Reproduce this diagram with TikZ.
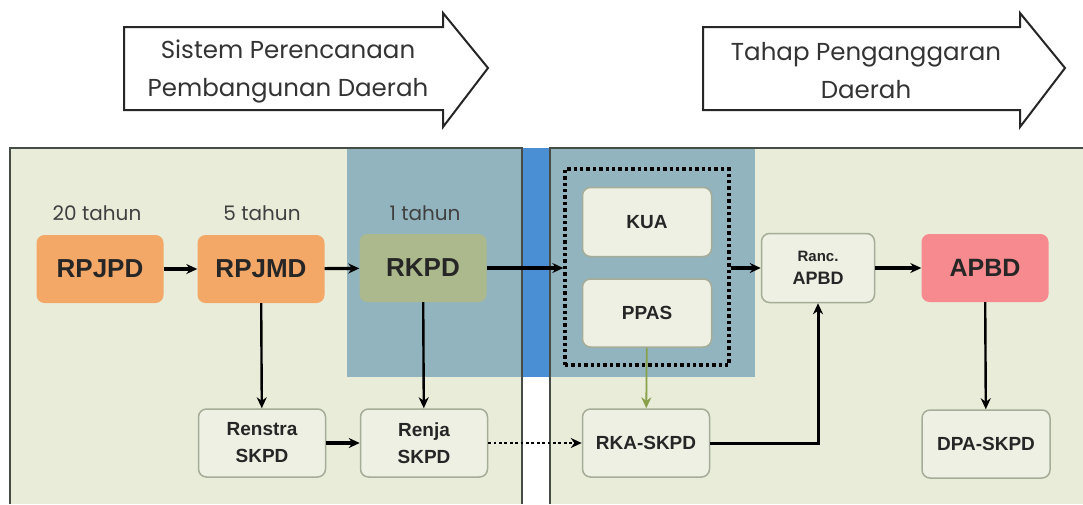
\documentclass[tikz,border=0pt]{standalone}
\usepackage{fontspec}
\setmainfont{Liberation Sans}
\newfontfamily\gothicfont{Poppins}
\usepackage{tikz}
\usetikzlibrary{arrows.meta}
\usetikzlibrary{positioning, calc}
\definecolor{panel}{RGB}{232,236,217}
\definecolor{tealbg}{RGB}{146,180,190}
\definecolor{stripblue}{RGB}{74,142,212}
\definecolor{orangebox}{RGB}{244,168,104}
\definecolor{olivebox}{RGB}{172,185,140}
\definecolor{pinkbox}{RGB}{246,138,142}
\definecolor{subfill}{RGB}{238,240,227}
\definecolor{subline}{RGB}{165,172,152}
\definecolor{greenline}{RGB}{138,160,74}
\definecolor{frame}{RGB}{70,76,70}

\tikzset{
  plan/.style={rounded corners=8pt, minimum width=127pt, minimum height=68pt,
    font=\fontsize{26}{28}\selectfont\bfseries, text=black!85},
  sub/.style={rounded corners=8pt, draw=subline, line width=1.5pt, fill=subfill,
    minimum width=127pt, minimum height=68pt, align=center,
    font=\fontsize{19}{27}\selectfont\bfseries, text=black!85},
  period/.style={font=\gothicfont\fontsize{20}{24}\selectfont, text=black!75},
  heading/.style={font=\gothicfont\fontsize{24.5}{38}\selectfont, align=center, text=black!80},
  flow/.style={->, line width=3.2pt},
  >={Stealth[length=11pt,width=10pt]}
}

\begin{document}
\begin{tikzpicture}[x=1pt, y=-1pt]
\useasboundingbox (0,0) rectangle (1083,504);
\fill[white] (0,0) rectangle (1083,504);

% panels
\fill[panel] (10,148) rectangle (522,504);
\fill[tealbg] (347,148) rectangle (522,377);
\fill[stripblue] (522,148) rectangle (550,377);
\fill[panel] (550,148) rectangle (1083,504);
\fill[tealbg] (550,148) rectangle (755,377);
\draw[frame, line width=2pt] (10,504) -- (10,148) -- (522,148) -- (522,504);
\draw[frame, line width=2pt] (550,504) -- (550,148) -- (1083,148);

% block arrows on top
\draw[gray!30!black, line width=2pt, fill=white]
  (124,27) -- (443,27) -- (443,13) -- (488,68) -- (443,127) -- (443,110) -- (124,110) -- cycle;
\draw[gray!30!black, line width=2pt, fill=white]
  (703,27) -- (1020,27) -- (1020,13) -- (1065,68) -- (1020,127) -- (1020,110) -- (703,110) -- cycle;
\node[heading] (sppd) at (288,71) {Sistem Perencanaan\\Pembangunan Daerah};
\node[heading] (tpd) at (866,71) {Tahap Penganggaran\\Daerah};

% periods
\node[period] (t20) at (97,213) {20 tahun};
\node[period] (t5) at (262,213) {5 tahun};
\node[period] (t1) at (425,213) {1 tahun};

% planning boxes
\node[plan, fill=orangebox] (rpjpd) at (100,269) {RPJPD};
\node[plan, fill=orangebox] (rpjmd) at (261,269) {RPJMD};
\node[plan, fill=olivebox] (rkpd) at (423,268) {RKPD};
\node[sub] (renstra) at (262,443) {Renstra\\SKPD};
\node[sub] (renja) at (424,443) {Renja\\SKPD};

% budget boxes
\node[draw, line width=3.4pt, dash pattern=on 3.4pt off 3pt,
  minimum width=164pt, minimum height=196pt] (kuappas) at (647,267) {};
\node[sub, minimum width=129pt, minimum height=69pt] (kua) at (647,222) {KUA};
\node[sub, minimum width=129pt, minimum height=68pt] (ppas) at (647,313) {PPAS};
\node[sub, minimum width=113pt, minimum height=69pt,
  font=\bfseries\fontsize{18}{23}\selectfont] (ranc) at (818,268)
  {{\fontsize{15}{18}\selectfont Ranc.}\\APBD};
\node[plan, fill=pinkbox, font=\fontsize{25}{28}\selectfont\bfseries] (apbd) at (985,268) {APBD};
\node[sub] (rka) at (646,443) {RKA-SKPD};
\node[sub, minimum width=128pt] (dpa) at (986,444) {DPA-SKPD};

% connectors
\draw[flow] (rpjpd) -- (rpjmd);
\draw[flow] (rpjmd) -- (rkpd);
\draw[flow] (rkpd.east) -- (rkpd.east -| kuappas.west);
\draw[flow] (kuappas.east |- ranc.west) -- (ranc.west);
\draw[flow] (ranc) -- (apbd);
\draw[flow] (renstra) -- (renja);
\draw[->, line width=2.4pt] (rpjmd) -- (renstra);
\draw[->, line width=2.4pt] (rkpd) -- (renja);
\draw[->, line width=2.4pt] (apbd) -- (dpa);
\draw[->, line width=2.8pt, dash pattern=on 2.8pt off 2.6pt] (renja) -- (rka);
\draw[->, line width=1.8pt, greenline] (ppas) -- (rka);
\draw[->, line width=3pt] (rka.east) -| (ranc.south);

\end{tikzpicture}
\end{document}
